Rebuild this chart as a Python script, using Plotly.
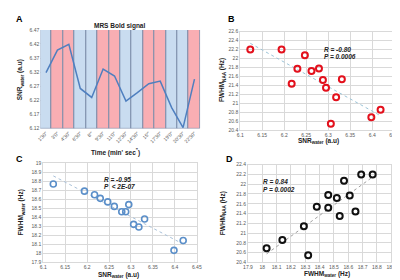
import numpy as np
import plotly.graph_objects as go

# ---------------- data ----------------
time_labels = ["1'30\"", "3'0\"", "4'30\"", "6'30\"", "8'\"", "9'30\"", "11'0\"",
               "12'30\"", "14'30\"", "15'\"", "17'30\"", "19'0\"", "20'30\"", "22'30\""]
condition = ["rest", "task", "task", "rest", "rest", "task", "task",
             "rest", "rest", "task", "task", "rest", "rest", "task"]
snr_water = [6.318, 6.398, 6.419, 6.262, 6.230, 6.331, 6.306,
             6.217, 6.247, 6.279, 6.288, 6.194, 6.123, 6.295]
fwhm_water = [18.29, 18.03, 18.14, 18.52, 18.61, 18.38, 18.32,
              18.65, 18.57, 18.46, 18.46, 18.69, 18.77, 18.54]
fwhm_naa = [21.14, 20.69, 20.86, 21.72, 21.77, 21.54, 20.55,
            21.44, 22.07, 21.78, 21.52, 22.20, 22.20, 21.35]
stats_b = ["R = -0.80", "P = 0.0006"]
stats_c = ["R = -0.95", "P  < 2E-07"]
stats_d = ["R = 0.84", "P = 0.0002"]

W, H = 400, 280
FONT = "Liberation Sans, Arial, sans-serif"
cond_colors = {"rest": "#c9dcf0", "task": "#f9aeb3"}
snr_range = [6.12, 6.47]

def px_x(a, b):
    return [a / W, b / W]

def px_y(top, bottom):
    return [1 - bottom / H, 1 - top / H]

fig = go.Figure()

# ---------- Panel A ----------
fig.add_trace(go.Bar(
    x=time_labels, y=[snr_range[1] - snr_range[0]] * len(time_labels), base=snr_range[0],
    marker=dict(color=[cond_colors[c] for c in condition], line=dict(color="#7d8eaa", width=1)),
    width=1, xaxis="x", yaxis="y", showlegend=False, hoverinfo="skip"))
fig.add_trace(go.Scatter(
    x=time_labels, y=snr_water, mode="lines", line=dict(color="#4f7fbf", width=1.5),
    xaxis="x", yaxis="y", showlegend=False))

def fit_line(x, y):
    k, b = np.polyfit(x, y, 1)
    xs = np.array([min(x), max(x)])
    return xs, k * xs + b

# ---------- Panel B ----------
xs, ys = fit_line(snr_water, fwhm_naa)
fig.add_trace(go.Scatter(x=xs, y=ys, mode="lines", line=dict(color="#9cc4d8", width=1, dash="dot"),
                         xaxis="x2", yaxis="y2", showlegend=False))
fig.add_trace(go.Scatter(x=snr_water, y=fwhm_naa, mode="markers",
                         marker=dict(symbol="circle-open", size=6, color="#e3101c", line=dict(width=2, color="#e3101c")),
                         xaxis="x2", yaxis="y2", showlegend=False))

# ---------- Panel C ----------
xs, ys = fit_line(snr_water, fwhm_water)
fig.add_trace(go.Scatter(x=xs, y=ys, mode="lines", line=dict(color="#a9c1d9", width=1, dash="dot"),
                         xaxis="x3", yaxis="y3", showlegend=False))
fig.add_trace(go.Scatter(x=snr_water, y=fwhm_water, mode="markers",
                         marker=dict(symbol="circle-open", size=6, color="#5b8fc9", line=dict(width=1.6, color="#5b8fc9")),
                         xaxis="x3", yaxis="y3", showlegend=False))

# ---------- Panel D ----------
xs, ys = fit_line(fwhm_water, fwhm_naa)
fig.add_trace(go.Scatter(x=xs, y=ys, mode="lines", line=dict(color="#a0a0a0", width=1, dash="dot"),
                         xaxis="x4", yaxis="y4", showlegend=False))
fig.add_trace(go.Scatter(x=fwhm_water, y=fwhm_naa, mode="markers",
                         marker=dict(symbol="circle-open", size=6, color="#111111", line=dict(width=2, color="#111111")),
                         xaxis="x4", yaxis="y4", showlegend=False))

tickfont = dict(family=FONT, size=5, color="#595959")
grid = dict(showgrid=True, gridcolor="#d9d9d9", gridwidth=1, zeroline=False,
            showline=True, linecolor="#d9d9d9", linewidth=1, mirror=True,
            ticks="", tickfont=tickfont)

fig.update_layout(
    width=W, height=H, margin=dict(l=0, r=0, t=0, b=0),
    paper_bgcolor="white", plot_bgcolor="white", bargap=0,
    font=dict(family=FONT, color="#222222"),
    xaxis=dict(domain=px_x(28, 192), anchor="y", type="category", range=[-0.5, 13.5],
               tickangle=-45, showgrid=False, zeroline=False, showline=False, ticks="",
               tickfont=dict(family=FONT, size=5, color="#595959")),
    yaxis=dict(domain=px_y(19.3, 120), anchor="x", range=snr_range,
               tickvals=[6.12, 6.17, 6.22, 6.27, 6.32, 6.37, 6.42, 6.47],
               showgrid=True, gridcolor="#d9d9d9", zeroline=False, showline=False, ticks="",
               tickfont=tickfont),
    xaxis2=dict(domain=px_x(233, 391), anchor="y2", range=[6.1, 6.45], tick0=6.1, dtick=0.05, **grid),
    yaxis2=dict(domain=px_y(21, 122), anchor="x2", range=[20.4, 22.6], tick0=20.4, dtick=0.2, **grid),
    xaxis3=dict(domain=px_x(31, 188.5), anchor="y3", range=[6.1, 6.45], tick0=6.1, dtick=0.05, **grid),
    yaxis3=dict(domain=px_y(155.7, 256.5), anchor="x3", range=[17.9, 19.0], tick0=17.9, dtick=0.1, **grid),
    xaxis4=dict(domain=px_x(241, 388), anchor="y4", range=[17.9, 18.9], tick0=17.9, dtick=0.1, **grid),
    yaxis4=dict(domain=px_y(157, 257), anchor="x4", range=[20.4, 22.4], tick0=20.4, dtick=0.2, **grid),
)

ann = []

def txt(x, y, text, size=7, xanchor="center", angle=0, color="#222222", italic=False):
    ann.append(dict(x=x / W, y=1 - y / H, xref="paper", yref="paper", text=text, showarrow=False,
                    xanchor=xanchor, yanchor="middle", textangle=angle,
                    font=dict(family=FONT, size=size, color=color, style="italic" if italic else "normal")))

# panel letters
for lab, x, y in [("A", 7, 8), ("B", 224, 8), ("C", 7, 151), ("D", 222, 151)]:
    txt(x, y, "<b>%s</b>" % lab, size=9, xanchor="center", color="#000000")

# titles
txt(109.5, 15.3, "<b>MRS Bold signal</b>", size=6.5)
txt(105, 144.5, "<b>Time (min' sec<sup>\"</sup>)</b>", size=6.5)
txt(7, 70, "<b>SNR<sub>water</sub> (a.u)</b>", size=6.5, angle=-90)
txt(313, 133, "<b>SNR<sub>water</sub> (a.u)</b>", size=6.5)
txt(215, 71, "<b>FWHM<sub>NAA</sub> (Hz)</b>", size=6.5, angle=-90)
txt(108, 270, "<b>SNR<sub>water</sub> (a.u)</b>", size=6.5)
txt(8, 206, "<b>FWHM<sub>water</sub> (Hz)</b>", size=6.5, angle=-90)
txt(322, 269, "<b>FWHM<sub>water</sub> (Hz)</b>", size=6.5)
txt(215, 207, "<b>FWHM<sub>NAA</sub> (Hz)</b>", size=6.5, angle=-90)

# stats
txt(316.7, 39, "<b>%s</b>" % stats_b[0], size=6.5, xanchor="left", italic=True)
txt(316.7, 46.7, "<b>%s</b>" % stats_b[1], size=6.5, xanchor="left", italic=True)
txt(91.7, 171.7, "<b>%s</b>" % stats_c[0], size=6.5, xanchor="left", italic=True)
txt(91.7, 179.7, "<b>%s</b>" % stats_c[1], size=6.5, xanchor="left", italic=True)
txt(254.3, 174.3, "<b>%s</b>" % stats_d[0], size=6.5, xanchor="left", italic=True)
txt(254.3, 182.7, "<b>%s</b>" % stats_d[1], size=6.5, xanchor="left", italic=True)

fig.update_layout(annotations=ann)
fig.write_html("out.html")
